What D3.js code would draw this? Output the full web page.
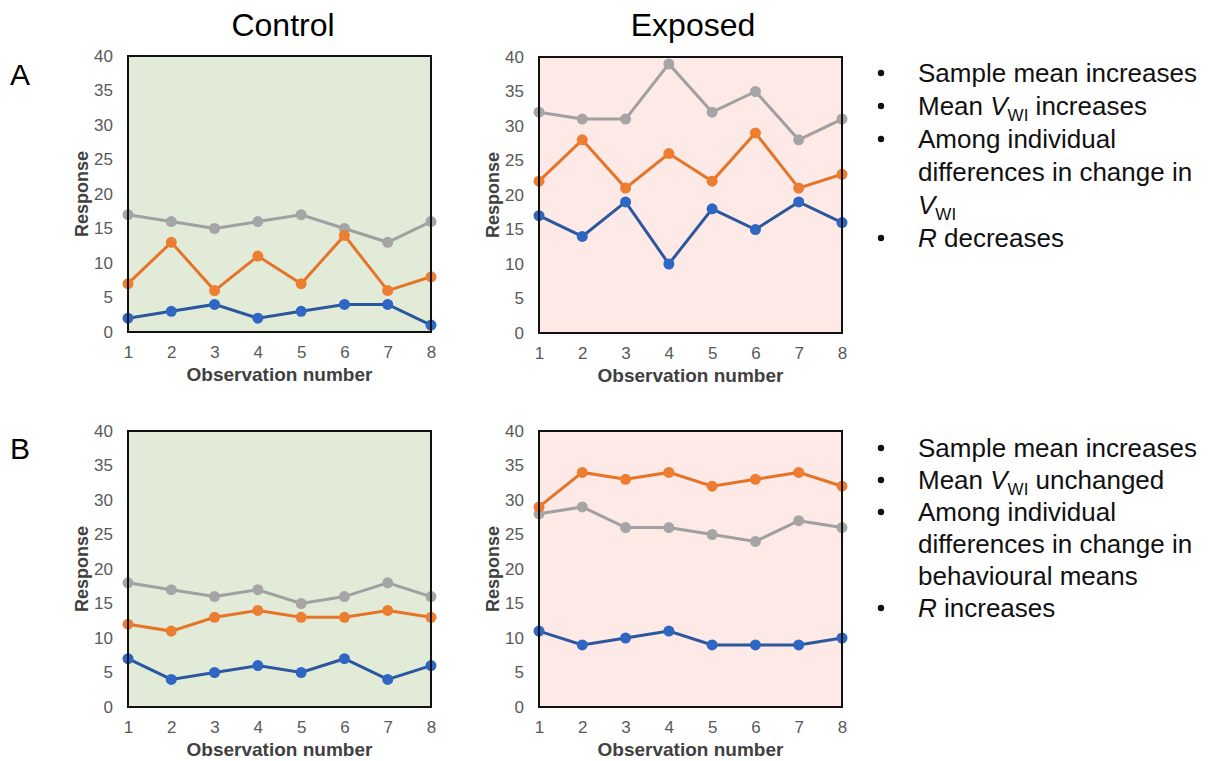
<!DOCTYPE html>
<html>
<head>
<meta charset="utf-8">
<script src="https://cdn.jsdelivr.net/npm/d3@7"></script>
<style>
  body { margin: 0; background: #fff; }
  svg { display: block; }
</style>
</head>
<body>
<svg id="chart" width="1209" height="761"></svg>
<script>
// observation numbers and y ticks
var obs = [1, 2, 3, 4, 5, 6, 7, 8];
var yTicks = [0, 5, 10, 15, 20, 25, 30, 35, 40];

// scenario A
var aControlGrey   = [17, 16, 15, 16, 17, 15, 13, 16];
var aControlOrange = [7, 13, 6, 11, 7, 14, 6, 8];
var aControlBlue   = [2, 3, 4, 2, 3, 4, 4, 1];
var aExposedGrey   = [32, 31, 31, 39, 32, 35, 28, 31];
var aExposedOrange = [22, 28, 21, 26, 22, 29, 21, 23];
var aExposedBlue   = [17, 14, 19, 10, 18, 15, 19, 16];

// scenario B
var bControlGrey   = [18, 17, 16, 17, 15, 16, 18, 16];
var bControlOrange = [12, 11, 13, 14, 13, 13, 14, 13];
var bControlBlue   = [7, 4, 5, 6, 5, 7, 4, 6];
var bExposedGrey   = [28, 29, 26, 26, 25, 24, 27, 26];
var bExposedOrange = [29, 34, 33, 34, 32, 33, 34, 32];
var bExposedBlue   = [11, 9, 10, 11, 9, 9, 9, 10];

var colTitles = ["Control", "Exposed"];
var rowLabels = ["A", "B"];

var svg = d3.select("#chart");
var font = "'Liberation Sans', Arial, sans-serif";

var colors = {
  grey:   { line: "#a0a0a0", dot: "#a5a5a5" },
  orange: { line: "#e57428", dot: "#ed7d31" },
  blue:   { line: "#2b579e", dot: "#2e66c4" }
};

var w = 303, h = 276;

function panel(x0, y0, bg, series) {
  var g = svg.append("g").attr("transform", "translate(" + x0 + "," + y0 + ")");

  var xScale = d3.scaleLinear().domain([1, 8]).range([0, w]);
  var yScale = d3.scaleLinear().domain([0, 40]).range([h, 0]);

  g.append("rect")
    .attr("width", w).attr("height", h)
    .attr("fill", bg);

  var yAxis = d3.axisLeft(yScale).tickValues(yTicks).tickSize(0).tickPadding(15)
    .tickFormat(d3.format("d"));
  var yAxisG = g.append("g").call(yAxis);
  yAxisG.select(".domain").remove();
  yAxisG.selectAll("text")
    .style("font-family", font).style("font-size", "17px").attr("fill", "#595959");

  var xAxis = d3.axisBottom(xScale).tickValues(obs).tickSize(0).tickPadding(14)
    .tickFormat(d3.format("d"));
  var xAxisG = g.append("g").attr("transform", "translate(0," + h + ")").call(xAxis);
  xAxisG.select(".domain").remove();
  xAxisG.selectAll("text")
    .style("font-family", font).style("font-size", "17px").attr("fill", "#595959");

  var line = d3.line()
    .x(function(d, i) { return xScale(obs[i]); })
    .y(function(d) { return yScale(d); });

  series.forEach(function(s) {
    g.append("path")
      .datum(s.values)
      .attr("fill", "none")
      .attr("stroke", colors[s.key].line)
      .attr("stroke-width", 3)
      .attr("d", line);
    g.selectAll(".dot-" + s.key)
      .data(s.values)
      .enter().append("circle")
      .attr("class", "dot-" + s.key)
      .attr("cx", function(d, i) { return xScale(obs[i]); })
      .attr("cy", function(d) { return yScale(d); })
      .attr("r", 5.5)
      .attr("fill", colors[s.key].dot);
  });

  // frame
  g.append("rect")
    .attr("width", w).attr("height", h)
    .attr("fill", "none")
    .attr("stroke", "#111")
    .attr("stroke-width", 2);

  // axis titles
  g.append("text")
    .attr("transform", "translate(-46," + (h / 2) + ") rotate(-90)")
    .attr("text-anchor", "middle")
    .attr("dy", "0.35em")
    .style("font-family", font).style("font-size", "18px").style("font-weight", "bold")
    .attr("fill", "#404040")
    .text("Response");

  g.append("text")
    .attr("x", w / 2).attr("y", h + 49)
    .attr("text-anchor", "middle")
    .style("font-family", font).style("font-size", "19px").style("font-weight", "bold")
    .attr("fill", "#404040")
    .text("Observation number");
}

var greenBg = "#e2ebd7", pinkBg = "#fde9e6";

panel(128, 56, greenBg, [
  { key: "grey", values: aControlGrey },
  { key: "orange", values: aControlOrange },
  { key: "blue", values: aControlBlue }]);
panel(539, 57, pinkBg, [
  { key: "grey", values: aExposedGrey },
  { key: "orange", values: aExposedOrange },
  { key: "blue", values: aExposedBlue }]);
panel(128, 431, greenBg, [
  { key: "grey", values: bControlGrey },
  { key: "orange", values: bControlOrange },
  { key: "blue", values: bControlBlue }]);
panel(539, 431, pinkBg, [
  { key: "grey", values: bExposedGrey },
  { key: "orange", values: bExposedOrange },
  { key: "blue", values: bExposedBlue }]);

// column titles
svg.append("text").attr("x", 283).attr("y", 36)
  .attr("text-anchor", "middle")
  .style("font-family", font).style("font-size", "32px")
  .text(colTitles[0]);
svg.append("text").attr("x", 693).attr("y", 36)
  .attr("text-anchor", "middle")
  .style("font-family", font).style("font-size", "32px")
  .text(colTitles[1]);

// row labels
svg.append("text").attr("x", 10).attr("y", 85)
  .style("font-family", font).style("font-size", "30px")
  .text(rowLabels[0]);
svg.append("text").attr("x", 10).attr("y", 459)
  .style("font-family", font).style("font-size", "30px")
  .text(rowLabels[1]);

// bullet notes: each line is a list of [text, style] pieces
var notesA = [
  { bullet: true, parts: [["Sample mean increases", ""]] },
  { bullet: true, parts: [["Mean ", ""], ["V", "i"], ["WI", "sub"], [" increases", ""]] },
  { bullet: true, parts: [["Among individual", ""]] },
  { bullet: false, parts: [["differences in change in", ""]] },
  { bullet: false, parts: [["V", "i"], ["WI", "sub"]] },
  { bullet: true, parts: [["R", "i"], [" decreases", ""]] }
];
var notesB = [
  { bullet: true, parts: [["Sample mean increases", ""]] },
  { bullet: true, parts: [["Mean ", ""], ["V", "i"], ["WI", "sub"], [" unchanged", ""]] },
  { bullet: true, parts: [["Among individual", ""]] },
  { bullet: false, parts: [["differences in change in", ""]] },
  { bullet: false, parts: [["behavioural means", ""]] },
  { bullet: true, parts: [["R", "i"], [" increases", ""]] }
];

function notes(list, y0, step) {
  var g = svg.append("g");
  list.forEach(function(l, i) {
    var y = y0 + i * step;
    if (l.bullet) {
      g.append("circle").attr("cx", 881).attr("cy", y - 9).attr("r", 3.2).attr("fill", "#111");
    }
    var t = g.append("text").attr("x", 918).attr("y", y)
      .style("font-family", font).style("font-size", "26px").attr("fill", "#111");
    l.parts.forEach(function(p, j) {
      var sp = t.append("tspan").text(p[0]);
      if (p[1] === "i") sp.style("font-style", "italic");
      if (p[1] === "sub") {
        sp.style("font-size", "17px").attr("dy", 6);
      } else if (j > 0 && l.parts[j - 1][1] === "sub") {
        // back to the baseline after a subscript
        sp.attr("dy", -6);
      }
    });
  });
}
notes(notesA, 82, 33);
notes(notesB, 457, 32);
</script>
</body>
</html>
